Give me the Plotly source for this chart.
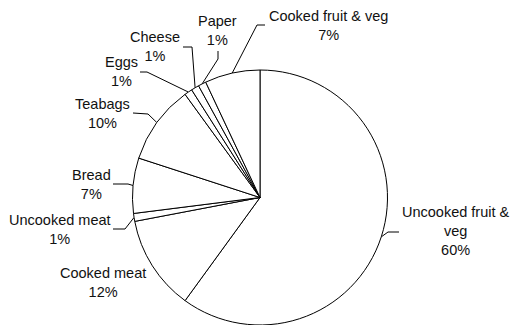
import math
import plotly.graph_objects as go

# Share of food waste by type (percent), clockwise from 12 o'clock
categories = ["Uncooked fruit & veg", "Cooked meat", "Uncooked meat", "Bread",
              "Teabags", "Eggs", "Cheese", "Paper", "Cooked fruit & veg"]
values = [60, 12, 1, 7, 10, 1, 1, 1, 7]
label_names = ["Uncooked fruit &<br>veg", "Cooked meat", "Uncooked meat", "Bread",
               "Teabags", "Eggs", "Cheese", "Paper", "Cooked fruit & veg"]

W, H = 512, 325
CX, CY, R = 260.0, 197.5, 127.5

# label centres and leader-line elbow/end points (pixel space)
label_xy = [(456, 231), (103, 282), (60, 229), (91, 184), (102, 113),
            (121, 71), (155, 46), (217, 30), (328, 25)]
leaders = [[(388, 232), (399, 232)], None, [(125, 229), (113, 229)],
           [(128, 184), (113, 184)], [(148, 114), (133, 113)],
           [(147, 72), (140, 72)], [(192, 47), (183, 47)],
           [(218, 59), (218, 51)], [(257, 25), (265, 25)]]

fig = go.Figure()

fig.add_trace(go.Pie(
    labels=categories, values=values, sort=False, direction="clockwise",
    rotation=0, textinfo="none", hoverinfo="label+percent",
    marker=dict(colors=["white"] * len(values), line=dict(color="black", width=1)),
    domain=dict(x=[(CX - R) / W, (CX + R) / W], y=[0, 2 * R / H]),
    showlegend=False,
))

total = sum(values)
cum = 0.0
annotations = []
for name, v, (lx, ly), leg in zip(label_names, values, label_xy, leaders):
    mid = (cum + v / 2) / total * 2 * math.pi
    cum += v
    ax = CX + R * math.sin(mid)
    ay = CY - R * math.cos(mid)
    if leg:
        xs = [ax] + [p[0] for p in leg]
        ys = [ay] + [p[1] for p in leg]
        fig.add_trace(go.Scatter(x=xs, y=ys, mode="lines",
                                 line=dict(color="black", width=1),
                                 hoverinfo="skip", showlegend=False))
    annotations.append(dict(x=lx, y=ly, xref="x", yref="y",
                            text=f"{name}<br>{v}%", showarrow=False,
                            xanchor="center", yanchor="middle", align="center",
                            font=dict(family="Liberation Sans, Arial, sans-serif",
                                      size=14.5, color="#111111")))

fig.update_layout(
    width=W, height=H, margin=dict(l=0, r=0, t=0, b=0),
    paper_bgcolor="white", plot_bgcolor="rgba(0,0,0,0)",
    xaxis=dict(range=[0, W], visible=False, domain=[0, 1], fixedrange=True),
    yaxis=dict(range=[H, 0], visible=False, domain=[0, 1], fixedrange=True),
    annotations=annotations,
)

fig.write_html("out.html")
